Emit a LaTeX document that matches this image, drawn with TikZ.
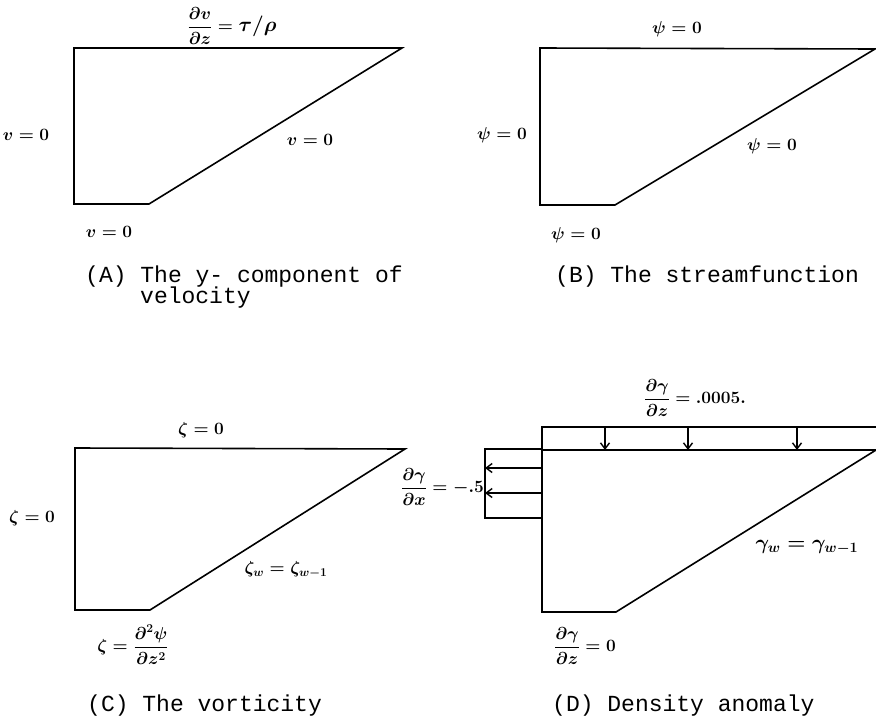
\documentclass[tikz,border=0pt]{standalone}
\usepackage{fontspec}
\newfontfamily\capfont{Liberation Mono}
\usetikzlibrary{arrows.meta}
\begin{document}
\begin{tikzpicture}[x=1pt,y=-1pt,
  outline/.style={line width=1.6pt,line join=miter},
  captext/.style={font=\fontsize{23}{21}\capfont,inner sep=0pt,anchor=base west},
  lab/.style={font=\fontsize{18}{20}\selectfont\boldmath,inner sep=0pt},
  biglab/.style={font=\fontsize{17}{20}\selectfont\boldmath,inner sep=0pt},
  barb/.style={line width=1.4pt,-{Straight Barb[length=6pt,width=9pt,line width=1.4pt]}}]
\useasboundingbox (0,0) rectangle (876,720);

% ---------- (A)
\coordinate (a1) at (74,48);
\coordinate (a2) at (402,48);
\coordinate (a3) at (149,204);
\coordinate (a4) at (74,204);
\draw[outline] (a1) -- (a2) -- (a3) -- (a4) -- cycle;
\node[biglab] (aT) at (232,26) {$\displaystyle\frac{\partial v}{\partial z}=\hbox{\fontsize{22}{24}\selectfont\boldmath$\tau/\rho$}$};
\node[lab] (aL) at (26,135) {$v=0$};
\node[lab] (aD) at (310,140) {$v=0$};
\node[lab] (aB) at (109,232) {$v=0$};
\node[captext] (capA1) at (85,282) {(A) The y- component of};
\node[captext] (capA2) at (140,303) {velocity};

% ---------- (B)
\coordinate (b1) at (540,48);
\coordinate (b2) at (875,49);
\coordinate (b3) at (615,205);
\coordinate (b4) at (540,205);
\draw[outline] (b1) -- (b2) -- (b3) -- (b4) -- cycle;
\node[lab] (bT) at (677,29) {$\psi=0$};
\node[lab] (bL) at (502,135) {$\psi=0$};
\node[lab] (bD) at (772,146) {$\psi=0$};
\node[lab] (bB) at (576,235) {$\psi=0$};
\node[captext] (capB) at (555,282) {(B) The streamfunction};

% ---------- (C)
\coordinate (c1) at (75,448);
\coordinate (c2) at (405,449);
\coordinate (c3) at (150,610);
\coordinate (c4) at (75,610);
\draw[outline] (c1) -- (c2) -- (c3) -- (c4) -- cycle;
\node[lab] (cT) at (201,430) {$\zeta=0$};
\node[lab] (cL) at (32,518) {$\zeta=0$};
\node[lab] (cD) at (286,570) {$\zeta_w=\zeta_{w-1}$};
\node[biglab] (cB) at (133,645) {$\displaystyle\zeta=\frac{\partial^2\psi}{\partial z^2}$};
\node[captext] (capC) at (87,711) {(C) The vorticity};

% ---------- (D)
\coordinate (d1) at (542,450);
\coordinate (d2) at (876,450);
\coordinate (d3) at (616,612);
\coordinate (d4) at (542,612);
\draw[outline] (d1) -- (d2) -- (d3) -- (d4) -- cycle;
% top strip
\coordinate (s1) at (542,427);
\coordinate (s2) at (876,427);
\draw[outline] (d1) -- (s1) -- (s2);
% left box
\coordinate (l1) at (542,449);
\coordinate (l2) at (485,449);
\coordinate (l3) at (485,518);
\coordinate (l4) at (542,518);
\draw[outline] (l1) -- (l2) -- (l3) -- (l4);
% flux arrows
\foreach \x/\n in {605/1,688/2,797/3}{
  \coordinate (ut\n) at (\x,427);
  \coordinate (ub\n) at (\x,450);
  \draw[barb] (ut\n) -- (ub\n);
}
\foreach \y/\n in {468/1,493/2}{
  \coordinate (lr\n) at (542,\y);
  \coordinate (ll\n) at (485,\y);
  \draw[barb] (lr\n) -- (ll\n);
}
\node[biglab] (dT) at (695,398) {$\displaystyle\frac{\partial\gamma}{\partial z}=.0005.$};
\node[biglab,anchor=east] (dL) at (484,487) {$\displaystyle\frac{\partial\gamma}{\partial x}=-.5$};
\node[lab] (dD) at (807,547) {\fontsize{21}{24}\selectfont$\gamma_w=\gamma_{w-1}$};
\node[biglab] (dB) at (585,646) {$\displaystyle\frac{\partial\gamma}{\partial z}=0$};
\node[captext] (capD) at (552,711) {(D) Density anomaly};
\end{tikzpicture}
\end{document}
